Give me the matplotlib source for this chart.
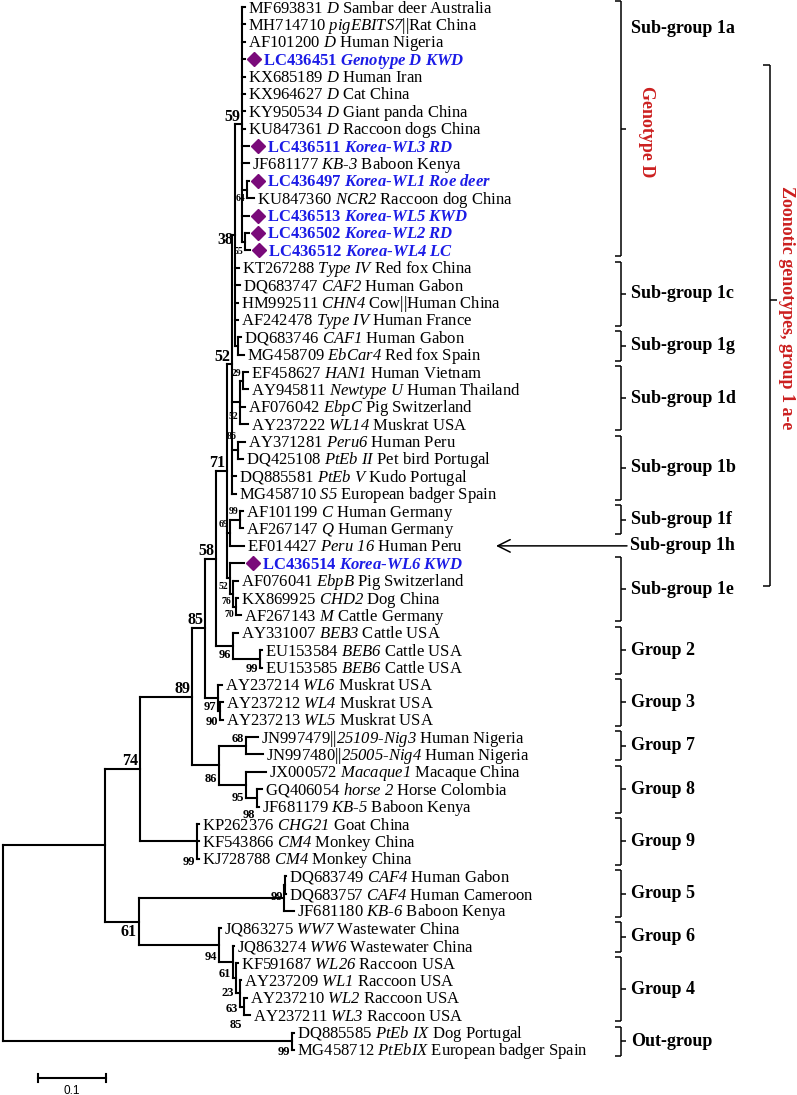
import re
import matplotlib
matplotlib.use("Agg")
import matplotlib.pyplot as plt
from matplotlib.collections import LineCollection

plt.rcParams['font.family'] = ['Liberation Serif', 'DejaVu Serif']
plt.rcParams['mathtext.fontset'] = 'custom'
plt.rcParams['mathtext.rm'] = 'Liberation Serif'
plt.rcParams['mathtext.it'] = 'Liberation Serif:italic'
plt.rcParams['mathtext.bf'] = 'Liberation Serif:bold'
# italic words go through \mathsf, bold italic words through \mathtt
plt.rcParams['mathtext.sf'] = 'Liberation Serif:italic'
plt.rcParams['mathtext.tt'] = 'Liberation Serif:italic:bold'

# taxa in tree order, *...* marks the italic part
TAXA = [
    "MF693831 *D* Sambar deer Australia",
    "MH714710 *pigEBITS7*||Rat China",
    "AF101200 *D* Human Nigeria",
    "LC436451 *Genotype D KWD*",
    "KX685189 *D* Human Iran",
    "KX964627 *D* Cat China",
    "KY950534 *D* Giant panda China",
    "KU847361 *D* Raccoon dogs China",
    "LC436511 *Korea-WL3 RD*",
    "JF681177 *KB-3* Baboon Kenya",
    "LC436497 *Korea-WL1 Roe deer*",
    "KU847360 *NCR2* Raccoon dog China",
    "LC436513 *Korea-WL5 KWD*",
    "LC436502 *Korea-WL2 RD*",
    "LC436512 *Korea-WL4 LC*",
    "KT267288 *Type IV* Red fox China",
    "DQ683747 *CAF2* Human Gabon",
    "HM992511 *CHN4* Cow||Human China",
    "AF242478 *Type IV* Human France",
    "DQ683746 *CAF1* Human Gabon",
    "MG458709 *EbCar4* Red fox Spain",
    "EF458627 *HAN1* Human Vietnam",
    "AY945811 *Newtype U* Human Thailand",
    "AF076042 *EbpC* Pig Switzerland",
    "AY237222 *WL14* Muskrat USA",
    "AY371281 *Peru6* Human Peru",
    "DQ425108 *PtEb II* Pet bird Portugal",
    "DQ885581 *PtEb V* Kudo Portugal",
    "MG458710 *S5* European badger Spain",
    "AF101199 *C* Human Germany",
    "AF267147 *Q* Human Germany",
    "EF014427 *Peru 16* Human Peru",
    "LC436514 *Korea-WL6 KWD*",
    "AF076041 *EbpB* Pig Switzerland",
    "KX869925 *CHD2* Dog China",
    "AF267143 *M* Cattle Germany",
    "AY331007 *BEB3* Cattle USA",
    "EU153584 *BEB6* Cattle USA",
    "EU153585 *BEB6* Cattle USA",
    "AY237214 *WL6* Muskrat USA",
    "AY237212 *WL4* Muskrat USA",
    "AY237213 *WL5* Muskrat USA",
    "JN997479||*25109-Nig3* Human Nigeria",
    "JN997480||*25005-Nig4* Human Nigeria",
    "JX000572 *Macaque1* Macaque China",
    "GQ406054 *horse 2* Horse Colombia",
    "JF681179 *KB-5* Baboon Kenya",
    "KP262376 *CHG21* Goat China",
    "KF543866 *CM4* Monkey China",
    "KJ728788 *CM4* Monkey China",
    "DQ683749 *CAF4* Human Gabon",
    "DQ683757 *CAF4* Human Cameroon",
    "JF681180 *KB-6* Baboon Kenya",
    "JQ863275 *WW7* Wastewater China",
    "JQ863274 *WW6* Wastewater China",
    "KF591687 *WL26* Raccoon USA",
    "AY237209 *WL1* Raccoon USA",
    "AY237210 *WL2* Raccoon USA",
    "AY237211 *WL3* Raccoon USA",
    "DQ885585 *PtEb IX* Dog Portugal",
    "MG458712 *PtEbIX* European badger Spain",
]
KOREA = [4, 9, 11, 13, 14, 15, 33]

# tree with branch lengths (substitutions/site) and bootstrap values
NEWICK = """
((((((((((t1:0.0044,t2:0.0044,t3:0.0044,t4:0.0044,t5:0.0044,t6:0.0044,t7:0.0044,t8:0.0044,
 t9:0.0103,t10:0.0103,(t11:0.0029,t12:0.0103)64:0.0074,t13:0.0103,
 (t14:0.0059,t15:0.0074)55:0.0044)59:0.0103,
 t16:0.0059,t17:0.0074,t18:0.0044,t19:0.0044,
 (t20:0.0044,t21:0.0088):0.0044)38:0.0044,
 ((t22:0.0074,t23:0.0074)29:0.0044,t24:0.0074,t25:0.0118)52:0.0118,
 (t26:0.0103,t27:0.0074)86:0.0088,
 t28:0.0059,t29:0.0059)52:0.0074,
 ((t30:0.0044,t31:0.0044)99:0.0147,t32:0.0206)69:0.0044,
 (t33:0.0206,(t34:0.0074,(t35:0.0029,t36:0.0074)70:0.0044)76:0.0044)52:0.0044)71:0.0162,
 (t37:0.0074,(t38:0.0029,t39:0.0029)99:0.0397)96:0.0250)58:0.0162,
 (t40:0.0059,(t41:0.0044,t42:0.0044)90:0.0029)97:0.0191)85:0.0191,
 ((t43:0.0176,t44:0.0250)68:0.0397,(t45:0.0294,(t46:0.0074,t47:0.0029)98:0.0162)95:0.0397)86:0.0397)89:0.0765,
 (t48:0.0029,t49:0.0029,t50:0.0029)99:0.0838)74:0.0515,
 (((t51:0.0015,t52:0.0015)99:0.0015,t53:0.0147):0.2132,
 (t54:0.0029,(t55:0.0015,(t56:0.0029,(t57:0.0015,(t58:0.0044,t59:0.0088)85:0.0059)63:0.0059)23:0.0044)61:0.0206)94:0.1176)61:0.0500):0.1500,
 (t60:0.0029,t61:0.0029)99:0.4250);
"""

# bootstrap label style (size, vertical nudge in px), same order as they appear in NEWICK
BOOT_LAYOUT = [
    ('S', 9), ('S', 10), ('L', -7), ('L', 5), ('S', -7), ('S', 14), ('S', -14),
    ('L', -7), ('S', -8), ('S', -8), ('S', 8), ('S', 8), ('S', 8), ('L', -8),
    ('M', 10), ('M', 9), ('L', -8), ('M', 11), ('M', 9), ('L', -8), ('M', -7),
    ('M', 17), ('M', 13), ('M', 14), ('L', -8), ('M', 21), ('L', -8), ('M', 12),
    ('M', 18), ('M', 16), ('M', 15), ('M', 12), ('M', 12), ('L', 10), ('M', 11),
]
BOOT_SIZE = {'L': 11.5, 'M': 9, 'S': 7}

GROUPS = [
    ("Sub-group 1a", 1, 15),
    ("Sub-group 1c", 16, 19),
    ("Sub-group 1g", 20, 21),
    ("Sub-group 1d", 22, 25),
    ("Sub-group 1b", 26, 29),
    ("Sub-group 1f", 30, 31),
    ("Sub-group 1e", 33, 36),
    ("Group 2", 37, 39),
    ("Group 3", 40, 42),
    ("Group 7", 43, 44),
    ("Group 8", 45, 47),
    ("Group 9", 48, 50),
    ("Group 5", 51, 53),
    ("Group 6", 54, 55),
    ("Group 4", 56, 59),
    ("Out-group", 60, 61),
]
ARROW_GROUP = ("Sub-group 1h", 32)
SCALE_BAR = 0.1

BLUE = '#1c1ce6'
PURPLE = '#7a0a7a'
RED = '#cc2020'

# pixel layout
X0, PXU = 3.0, 680.0      # root position, px per substitution unit
Y0, ROW = 7.0, 17.383     # first row, px per row
PT = 0.72                 # points per px at dpi 100


def xpx(p):
    return (p - X0) / PXU


def ypx(p):
    return (p - Y0) / ROW


def parse(s):
    s = re.sub(r'\s+', '', s)
    pos = 0

    def node():
        nonlocal pos
        kids = []
        if s[pos] == '(':
            pos += 1
            while True:
                kids.append(node())
                if s[pos] == ',':
                    pos += 1
                    continue
                pos += 1
                break
        start = pos
        while s[pos] not in ',():;':
            pos += 1
        name = s[start:pos]
        length = 0.0
        if s[pos] == ':':
            pos += 1
            start = pos
            while s[pos] not in ',();':
                pos += 1
            length = float(s[start:pos])
        return {'name': name, 'len': length, 'kids': kids}

    return node()


def place(n, d=0.0):
    n['x'] = d + n['len']
    if n['kids']:
        for k in n['kids']:
            place(k, n['x'])
        n['y'] = (n['kids'][0]['y'] + n['kids'][-1]['y']) / 2
    else:
        n['y'] = int(n['name'][1:]) - 1


def collect(n, segs, inner, leaves):
    for k in n['kids']:
        collect(k, segs, inner, leaves)
        segs.append([(n['x'], k['y']), (k['x'], k['y'])])
    if n['kids']:
        segs.append([(n['x'], n['kids'][0]['y']), (n['x'], n['kids'][-1]['y'])])
        if n['name']:
            inner.append(n)
    else:
        leaves.append(n)


def rich(s, bold):
    cmd = r'\mathtt' if bold else r'\mathsf'
    out = []
    for i, part in enumerate(s.split('*')):
        if i % 2 == 0:
            out.append(part)
        else:
            out.append(re.sub(r'[^ \-]+', lambda m: '$%s{%s}$' % (cmd, m.group(0)), part))
    return ''.join(out)


tree = parse(NEWICK)
place(tree)
segs, inner, leaves = [], [], []
collect(tree, segs, inner, leaves)

fig = plt.figure(figsize=(7.97, 10.95), dpi=100)
ax = fig.add_axes([0, 0, 1, 1])
ax.set_xlim(-X0 / PXU, (797 - X0) / PXU)
ax.set_ylim((1095 - Y0) / ROW, -Y0 / ROW)
ax.axis('off')

ax.add_collection(LineCollection(segs, colors='black', linewidths=1.5, capstyle='projecting'))

# taxa labels
for lf in leaves:
    idx = int(lf['name'][1:])
    korea = idx in KOREA
    if korea:
        ax.plot(lf['x'] + 9 / PXU, lf['y'], marker='D', ms=7.5, color=PURPLE, mec=PURPLE)
        off = 18
    else:
        off = 3
    ax.annotate(rich(TAXA[idx - 1], korea), (lf['x'], lf['y']),
                xytext=(off * PT, -5.5 * PT), textcoords='offset points',
                ha='left', va='baseline', fontsize=12,
                color=BLUE if korea else 'black',
                fontweight='bold' if korea else 'normal')

# bootstrap values
for n, (size, dy) in zip(inner, BOOT_LAYOUT):
    ax.annotate(n['name'], (n['x'], n['y']), xytext=(-2 * PT, -dy * PT),
                textcoords='offset points', ha='right', va='center',
                fontsize=BOOT_SIZE[size], fontweight='bold')

# group brackets on the right
bsegs = []
bx, hook, tick = xpx(621), 6 / PXU, 5 / PXU
for name, a, b in GROUPS:
    top, bot = a - 1 - 6 / ROW, b - 1 + 6 / ROW
    mid = (top + bot) / 2
    bsegs += [[(bx, top), (bx, bot)], [(bx - hook, top), (bx, top)],
              [(bx - hook, bot), (bx, bot)], [(bx, mid), (bx + tick, mid)]]
    ly = ypx(28) if name == "Sub-group 1a" else mid
    ax.text(xpx(631), ly, name, ha='left', va='center', fontsize=13, fontweight='bold')

name, r = ARROW_GROUP
ax.annotate('', xy=(xpx(496), r - 1), xytext=(xpx(627), r - 1),
            arrowprops=dict(arrowstyle='->,head_length=0.9,head_width=0.45',
                            lw=1.1, color='black', shrinkA=0, shrinkB=0))
ax.text(xpx(630), r - 1, name, ha='left', va='center', fontsize=13, fontweight='bold')

ax.text(xpx(647), ypx(132), "Genotype D", rotation=-90, ha='center', va='center',
        fontsize=13, fontweight='bold', color=RED)

zx, ztop, zbot = xpx(770), ypx(65), ypx(586)
bsegs += [[(zx, ztop), (zx, zbot)], [(zx - 7 / PXU, ztop), (zx, ztop)],
          [(zx - 7 / PXU, zbot), (zx, zbot)], [(zx, ypx(300)), (zx + 7 / PXU, ypx(300))]]
ax.text(xpx(787), ypx(308), "Zoonotic genotypes, group 1 a-e", rotation=-90,
        ha='center', va='center', fontsize=13, fontweight='bold', color=RED)

ax.add_collection(LineCollection(bsegs, colors='black', linewidths=1.1))

# scale bar
sx, sy = xpx(38), ypx(1078)
ax.plot([sx, sx + SCALE_BAR], [sy, sy], color='black', lw=1.5)
for xx in (sx, sx + SCALE_BAR):
    ax.plot([xx, xx], [ypx(1074), ypx(1082)], color='black', lw=1.5)
ax.text(sx + SCALE_BAR / 2, ypx(1091), "0.1", ha='center', va='center',
        fontsize=8.5, family='Liberation Sans')

plt.savefig('out.png', dpi=100)
